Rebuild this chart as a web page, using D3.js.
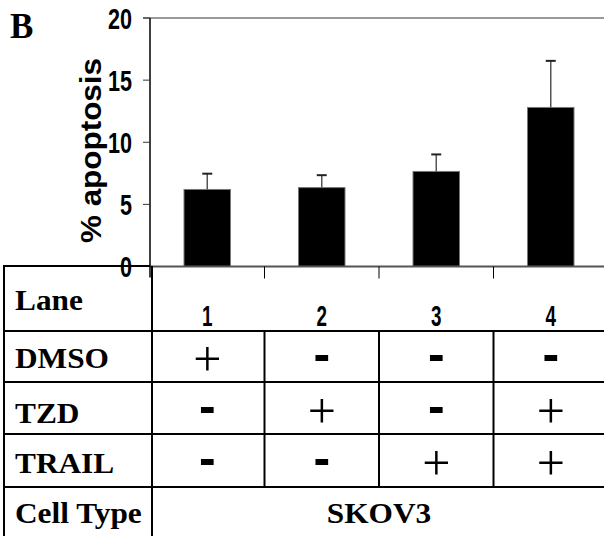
<!DOCTYPE html>
<html>
<head>
<meta charset="utf-8">
<script src="https://cdn.jsdelivr.net/npm/d3@7"></script>
</head>
<body style="margin:0;background:#fff">
<svg id="chart" width="604" height="536" style="display:block"></svg>
<script>
// ---- data ----
const lanes = ["1", "2", "3", "4"];
const apoptosis = [6.2, 6.35, 7.65, 12.8];
const errorUp = [1.27, 1.0, 1.37, 3.75];
const yTicks = [0, 5, 10, 15, 20];
const yLabel = "% apoptosis";
const panelLabel = "B";
const rowLabels = ["Lane", "DMSO", "TZD", "TRAIL", "Cell Type"];
const dmso = ["+", "-", "-", "-"];
const tzd = ["-", "+", "-", "+"];
const trail = ["-", "-", "+", "+"];
const cellType = "SKOV3";

// ---- layout ----
const svg = d3.select("#chart");
const plotLeft = 150, plotRight = 608, plotTop = 18, plotBottom = 266.5;
const rowEdges = [266, 331, 382, 434, 487, 536];
const tableLeft = 4, tableDivider = 152, W = 604;
const SERIF = "Liberation Serif";
const SANS = "Liberation Sans";

const x = d3.scaleBand().domain(lanes).range([plotLeft, plotRight])
  .paddingInner(0.594).paddingOuter(0.297);
const y = d3.scaleLinear().domain([0, 20]).range([plotBottom, plotTop]);

function txt(sel, fam, weight, size) {
  return sel.style("font-family", fam).style("font-weight", weight).style("font-size", size + "px");
}

// top frame line (gray)
svg.append("line").attr("x1", 143).attr("x2", W).attr("y1", y(20)).attr("y2", y(20))
  .attr("stroke", "#999").attr("stroke-width", 2);

// bars
svg.selectAll("rect.bar").data(lanes).join("rect")
  .attr("class", "bar")
  .attr("x", d => x(d))
  .attr("width", x.bandwidth())
  .attr("y", (d, i) => y(apoptosis[i]))
  .attr("height", (d, i) => y(0) - y(apoptosis[i]))
  .attr("fill", "#000").attr("stroke", "#777").attr("stroke-width", 1);

// error bars (upper only)
const eb = svg.selectAll("g.err").data(lanes).join("g").attr("class", "err");
eb.append("line")
  .attr("x1", d => x(d) + x.bandwidth() / 2).attr("x2", d => x(d) + x.bandwidth() / 2)
  .attr("y1", (d, i) => y(apoptosis[i])).attr("y2", (d, i) => y(apoptosis[i] + errorUp[i]))
  .attr("stroke", "#555").attr("stroke-width", 1.5);
eb.append("line")
  .attr("x1", d => x(d) + x.bandwidth() / 2 - 5).attr("x2", d => x(d) + x.bandwidth() / 2 + 5)
  .attr("y1", (d, i) => y(apoptosis[i] + errorUp[i])).attr("y2", (d, i) => y(apoptosis[i] + errorUp[i]))
  .attr("stroke", "#222").attr("stroke-width", 2);

// baseline (gray)
svg.append("line").attr("x1", plotLeft).attr("x2", W).attr("y1", y(0)).attr("y2", y(0))
  .attr("stroke", "#555").attr("stroke-width", 2);

// x ticks between lanes
const xTickPos = lanes.map(d => x(d) - x.step() * x.paddingInner() / 2).slice(1);
svg.selectAll("line.xtick").data(xTickPos).join("line").attr("class", "xtick")
  .attr("x1", d => d).attr("x2", d => d).attr("y1", y(0)).attr("y2", y(0) + 12)
  .attr("stroke", "#000").attr("stroke-width", 1);

// y axis line
svg.append("line").attr("x1", plotLeft).attr("x2", plotLeft).attr("y1", y(20)).attr("y2", y(0) + 11)
  .attr("stroke", "#000").attr("stroke-width", 1.5);
// y ticks
svg.selectAll("line.ytick").data(yTicks).join("line").attr("class", "ytick")
  .attr("x1", plotLeft - 7).attr("x2", plotLeft).attr("y1", d => y(d)).attr("y2", d => y(d))
  .attr("stroke", "#333").attr("stroke-width", 1);
// y tick labels (bold condensed)
svg.selectAll("g.ylab").data(yTicks).join("g").attr("class", "ylab")
  .attr("transform", d => `translate(132,${y(d) + 10.5}) scale(0.72,1)`)
  .append("text").attr("text-anchor", "end")
  .call(txt, SANS, "bold", 30)
  .text(d => d);

// y title
svg.append("text")
  .attr("transform", "translate(101,150.5) rotate(-90)")
  .attr("text-anchor", "middle")
  .call(txt, SANS, "bold", 30)
  .attr("textLength", 185).attr("lengthAdjust", "spacingAndGlyphs")
  .text(yLabel);

// panel label
svg.append("text").attr("x", 10).attr("y", 38)
  .call(txt, SERIF, "bold", 35)
  .text(panelLabel);

// ---- table ----
const T = svg.append("g");
T.append("line").attr("x1", tableLeft - 1).attr("x2", plotLeft).attr("y1", rowEdges[0]).attr("y2", rowEdges[0])
  .attr("stroke", "#000").attr("stroke-width", 2);
T.selectAll("line.row").data(rowEdges.slice(1, 5)).join("line").attr("class", "row")
  .attr("x1", tableLeft - 1).attr("x2", W).attr("y1", d => d).attr("y2", d => d)
  .attr("stroke", "#000").attr("stroke-width", 2);
T.append("line").attr("x1", tableLeft).attr("x2", tableLeft).attr("y1", rowEdges[0]).attr("y2", 536)
  .attr("stroke", "#000").attr("stroke-width", 2);
T.append("line").attr("x1", tableDivider).attr("x2", tableDivider).attr("y1", rowEdges[0]).attr("y2", 536)
  .attr("stroke", "#000").attr("stroke-width", 2);
T.selectAll("line.col").data(xTickPos).join("line").attr("class", "col")
  .attr("x1", d => d).attr("x2", d => d).attr("y1", rowEdges[1]).attr("y2", rowEdges[4])
  .attr("stroke", "#000").attr("stroke-width", 2);

// row labels
const labelBase = [310, 368, 423, 472.5, 522.5];
T.selectAll("g.rl").data(rowLabels).join("g").attr("class", "rl")
  .attr("transform", (d, i) => `translate(15,${labelBase[i]}) scale(1.08,1)`)
  .append("text")
  .call(txt, SERIF, "bold", 29)
  .text(d => d);

// lane numbers
T.selectAll("g.ln").data(lanes).join("g").attr("class", "ln")
  .attr("transform", d => `translate(${x(d) + x.bandwidth() / 2},326) scale(0.65,1)`)
  .append("text").attr("text-anchor", "middle")
  .call(txt, SANS, "bold", 29)
  .text(d => d);

// +/- signs
const treatments = [dmso, tzd, trail];
treatments.forEach((row, r) => {
  const cy = (rowEdges[r + 1] + rowEdges[r + 2]) / 2;
  T.selectAll(null).data(row).join("text")
    .attr("x", (d, i) => x(lanes[i]) + x.bandwidth() / 2)
    .attr("y", d => d === "+" ? cy + 19.5 : cy + 14.5)
    .attr("text-anchor", "middle")
    .style("font-family", d => d === "+" ? SERIF : SANS)
    .style("font-weight", d => d === "+" ? "normal" : "bold")
    .style("font-size", "50px")
    .text(d => d);
});

// cell type
T.append("g").attr("transform", "translate(379,523) scale(1.08,1)")
  .append("text").attr("text-anchor", "middle")
  .call(txt, SERIF, "bold", 29)
  .text(cellType);
</script>
</body>
</html>
